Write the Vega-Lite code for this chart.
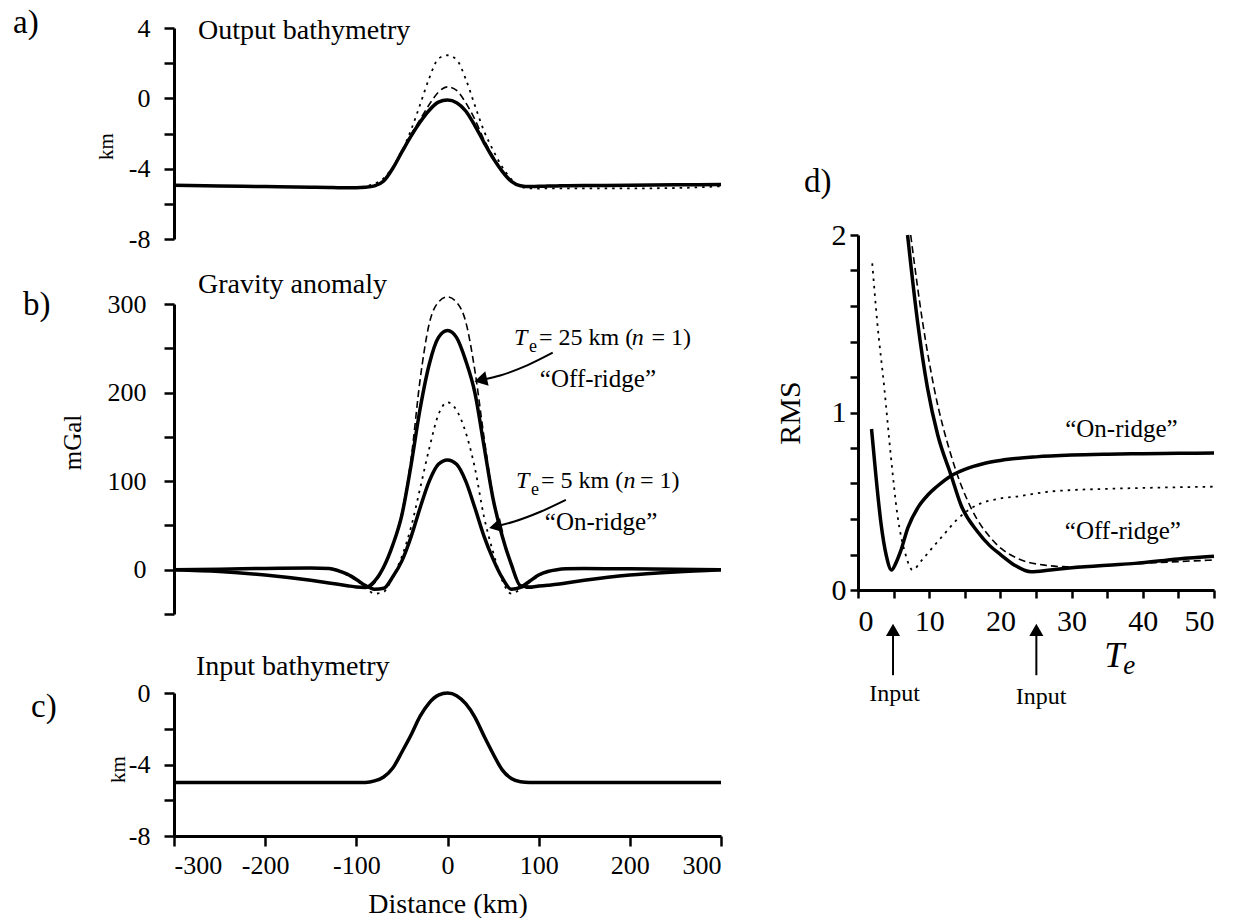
{
  "$schema": "https://vega.github.io/schema/vega-lite/v6.json",
  "padding": {"left": 12, "top": 6, "right": 0, "bottom": 0},
  "config": {
    "view": {"stroke": null},
    "font": "Liberation Serif",
    "axis": {"domainColor": "black", "domainWidth": 3, "tickColor": "black", "tickWidth": 2.5, "tickSize": 10, "labelFont": "Liberation Serif", "labelColor": "black", "labelFontSize": 26, "titleFont": "Liberation Serif", "titleColor": "black", "titleFontWeight": "normal", "grid": false},
    "text": {"font": "Liberation Serif", "color": "black"}
  },
  "datasets": {
    "outbathy": [
      {"s":"solid","x":-300,"y":-4.95},{"s":"solid","x":-250,"y":-4.98},{"s":"solid","x":-200,"y":-5.02},{"s":"solid","x":-150,"y":-5.05},{"s":"solid","x":-130,"y":-5.07},{"s":"solid","x":-120,"y":-5.08},{"s":"solid","x":-110,"y":-5.08},{"s":"solid","x":-100,"y":-5.08},{"s":"solid","x":-90,"y":-5.06},{"s":"solid","x":-80,"y":-4.98},{"s":"solid","x":-70,"y":-4.7},{"s":"solid","x":-60,"y":-3.98},{"s":"solid","x":-50,"y":-3.05},{"s":"solid","x":-40,"y":-2.15},{"s":"solid","x":-30,"y":-1.35},{"s":"solid","x":-20,"y":-0.68},{"s":"solid","x":-10,"y":-0.22},{"s":"solid","x":0,"y":-0.1},{"s":"solid","x":10,"y":-0.25},{"s":"solid","x":20,"y":-0.72},{"s":"solid","x":30,"y":-1.55},{"s":"solid","x":40,"y":-2.5},{"s":"solid","x":50,"y":-3.4},{"s":"solid","x":60,"y":-4.15},{"s":"solid","x":70,"y":-4.72},{"s":"solid","x":80,"y":-4.97},{"s":"solid","x":90,"y":-5.02},{"s":"solid","x":100,"y":-5.0},{"s":"solid","x":110,"y":-4.99},{"s":"solid","x":120,"y":-4.98},{"s":"solid","x":130,"y":-4.97},{"s":"solid","x":150,"y":-4.96},{"s":"solid","x":200,"y":-4.94},{"s":"solid","x":250,"y":-4.92},{"s":"solid","x":300,"y":-4.9},
      {"s":"dashed","x":-300,"y":-4.95},{"s":"dashed","x":-250,"y":-4.98},{"s":"dashed","x":-200,"y":-5.02},{"s":"dashed","x":-150,"y":-5.05},{"s":"dashed","x":-130,"y":-5.07},{"s":"dashed","x":-120,"y":-5.08},{"s":"dashed","x":-110,"y":-5.08},{"s":"dashed","x":-100,"y":-5.08},{"s":"dashed","x":-90,"y":-5.06},{"s":"dashed","x":-80,"y":-4.97},{"s":"dashed","x":-70,"y":-4.68},{"s":"dashed","x":-60,"y":-3.95},{"s":"dashed","x":-50,"y":-3.0},{"s":"dashed","x":-40,"y":-2.05},{"s":"dashed","x":-30,"y":-1.2},{"s":"dashed","x":-20,"y":-0.35},{"s":"dashed","x":-10,"y":0.35},{"s":"dashed","x":0,"y":0.65},{"s":"dashed","x":10,"y":0.45},{"s":"dashed","x":20,"y":-0.25},{"s":"dashed","x":30,"y":-1.2},{"s":"dashed","x":40,"y":-2.35},{"s":"dashed","x":50,"y":-3.3},{"s":"dashed","x":60,"y":-4.1},{"s":"dashed","x":70,"y":-4.7},{"s":"dashed","x":80,"y":-4.97},{"s":"dashed","x":90,"y":-5.02},{"s":"dashed","x":100,"y":-5.0},{"s":"dashed","x":110,"y":-4.99},{"s":"dashed","x":120,"y":-4.98},{"s":"dashed","x":130,"y":-4.97},{"s":"dashed","x":150,"y":-4.96},{"s":"dashed","x":200,"y":-4.94},{"s":"dashed","x":250,"y":-4.92},{"s":"dashed","x":300,"y":-4.9},
      {"s":"dotted","x":-300,"y":-4.95},{"s":"dotted","x":-250,"y":-4.98},{"s":"dotted","x":-200,"y":-5.02},{"s":"dotted","x":-150,"y":-5.05},{"s":"dotted","x":-130,"y":-5.06},{"s":"dotted","x":-120,"y":-5.07},{"s":"dotted","x":-110,"y":-5.07},{"s":"dotted","x":-100,"y":-5.06},{"s":"dotted","x":-90,"y":-5.0},{"s":"dotted","x":-80,"y":-4.85},{"s":"dotted","x":-70,"y":-4.55},{"s":"dotted","x":-60,"y":-3.9},{"s":"dotted","x":-50,"y":-3.0},{"s":"dotted","x":-40,"y":-1.8},{"s":"dotted","x":-30,"y":-0.35},{"s":"dotted","x":-20,"y":1.15},{"s":"dotted","x":-10,"y":2.25},{"s":"dotted","x":0,"y":2.45},{"s":"dotted","x":10,"y":2.2},{"s":"dotted","x":20,"y":1.1},{"s":"dotted","x":30,"y":-0.4},{"s":"dotted","x":40,"y":-1.85},{"s":"dotted","x":50,"y":-2.95},{"s":"dotted","x":60,"y":-3.9},{"s":"dotted","x":70,"y":-4.6},{"s":"dotted","x":80,"y":-5.0},{"s":"dotted","x":90,"y":-5.12},{"s":"dotted","x":100,"y":-5.13},{"s":"dotted","x":110,"y":-5.12},{"s":"dotted","x":120,"y":-5.12},{"s":"dotted","x":130,"y":-5.12},{"s":"dotted","x":150,"y":-5.12},{"s":"dotted","x":200,"y":-5.12},{"s":"dotted","x":250,"y":-5.1},{"s":"dotted","x":300,"y":-5.0}
    ],
    "grav": [
      {"s":"te25","x":-300,"y":0},{"s":"te25","x":-250,"y":-2},{"s":"te25","x":-200,"y":-6},{"s":"te25","x":-150,"y":-12},{"s":"te25","x":-130,"y":-15},{"s":"te25","x":-120,"y":-16.5},{"s":"te25","x":-110,"y":-18},{"s":"te25","x":-100,"y":-19.5},{"s":"te25","x":-90,"y":-20},{"s":"te25","x":-80,"y":-13},{"s":"te25","x":-70,"y":3},{"s":"te25","x":-60,"y":28},{"s":"te25","x":-50,"y":62},{"s":"te25","x":-40,"y":118},{"s":"te25","x":-30,"y":182},{"s":"te25","x":-20,"y":232},{"s":"te25","x":-10,"y":262},{"s":"te25","x":0,"y":270},{"s":"te25","x":10,"y":262},{"s":"te25","x":20,"y":236},{"s":"te25","x":30,"y":200},{"s":"te25","x":40,"y":140},{"s":"te25","x":50,"y":80},{"s":"te25","x":60,"y":38},{"s":"te25","x":70,"y":6},{"s":"te25","x":80,"y":-18},{"s":"te25","x":90,"y":-19.5},{"s":"te25","x":100,"y":-18.5},{"s":"te25","x":110,"y":-17.5},{"s":"te25","x":120,"y":-16.5},{"s":"te25","x":130,"y":-15},{"s":"te25","x":150,"y":-12},{"s":"te25","x":200,"y":-6},{"s":"te25","x":250,"y":-2.5},{"s":"te25","x":300,"y":0},
      {"s":"te5","x":-300,"y":0},{"s":"te5","x":-250,"y":0.5},{"s":"te5","x":-200,"y":1.5},{"s":"te5","x":-150,"y":2},{"s":"te5","x":-130,"y":1.5},{"s":"te5","x":-120,"y":-1},{"s":"te5","x":-110,"y":-5},{"s":"te5","x":-100,"y":-11},{"s":"te5","x":-90,"y":-18},{"s":"te5","x":-80,"y":-22},{"s":"te5","x":-70,"y":-21},{"s":"te5","x":-60,"y":-8},{"s":"te5","x":-50,"y":10},{"s":"te5","x":-40,"y":37},{"s":"te5","x":-30,"y":70},{"s":"te5","x":-20,"y":100},{"s":"te5","x":-10,"y":119},{"s":"te5","x":0,"y":124},{"s":"te5","x":10,"y":119},{"s":"te5","x":20,"y":100},{"s":"te5","x":30,"y":70},{"s":"te5","x":40,"y":38},{"s":"te5","x":50,"y":12},{"s":"te5","x":60,"y":-9},{"s":"te5","x":70,"y":-22},{"s":"te5","x":80,"y":-20},{"s":"te5","x":90,"y":-13},{"s":"te5","x":100,"y":-6},{"s":"te5","x":110,"y":-2},{"s":"te5","x":120,"y":0},{"s":"te5","x":130,"y":1},{"s":"te5","x":150,"y":1.5},{"s":"te5","x":200,"y":1},{"s":"te5","x":250,"y":0.5},{"s":"te5","x":300,"y":0},
      {"s":"dash","x":-300,"y":0},{"s":"dash","x":-250,"y":-2},{"s":"dash","x":-200,"y":-6},{"s":"dash","x":-150,"y":-12},{"s":"dash","x":-130,"y":-15},{"s":"dash","x":-120,"y":-16.5},{"s":"dash","x":-110,"y":-18},{"s":"dash","x":-100,"y":-19.5},{"s":"dash","x":-90,"y":-21},{"s":"dash","x":-80,"y":-15},{"s":"dash","x":-70,"y":2},{"s":"dash","x":-60,"y":28},{"s":"dash","x":-50,"y":65},{"s":"dash","x":-40,"y":125},{"s":"dash","x":-30,"y":215},{"s":"dash","x":-20,"y":278},{"s":"dash","x":-10,"y":302},{"s":"dash","x":0,"y":308},{"s":"dash","x":10,"y":302},{"s":"dash","x":20,"y":280},{"s":"dash","x":30,"y":225},{"s":"dash","x":40,"y":150},{"s":"dash","x":50,"y":82},{"s":"dash","x":60,"y":38},{"s":"dash","x":70,"y":5},{"s":"dash","x":80,"y":-19},{"s":"dash","x":90,"y":-21},{"s":"dash","x":100,"y":-19},{"s":"dash","x":110,"y":-17.5},{"s":"dash","x":120,"y":-16.5},{"s":"dash","x":130,"y":-15},{"s":"dash","x":150,"y":-12},{"s":"dash","x":200,"y":-6},{"s":"dash","x":250,"y":-2.5},{"s":"dash","x":300,"y":0},
      {"s":"dot","x":-300,"y":0},{"s":"dot","x":-250,"y":0.5},{"s":"dot","x":-200,"y":1.5},{"s":"dot","x":-150,"y":2},{"s":"dot","x":-130,"y":1},{"s":"dot","x":-120,"y":-2},{"s":"dot","x":-110,"y":-6},{"s":"dot","x":-100,"y":-12},{"s":"dot","x":-90,"y":-20},{"s":"dot","x":-80,"y":-27},{"s":"dot","x":-70,"y":-25},{"s":"dot","x":-60,"y":-8},{"s":"dot","x":-50,"y":15},{"s":"dot","x":-40,"y":48},{"s":"dot","x":-30,"y":92},{"s":"dot","x":-20,"y":137},{"s":"dot","x":-10,"y":175},{"s":"dot","x":0,"y":189},{"s":"dot","x":10,"y":180},{"s":"dot","x":20,"y":155},{"s":"dot","x":30,"y":115},{"s":"dot","x":40,"y":60},{"s":"dot","x":50,"y":20},{"s":"dot","x":60,"y":-12},{"s":"dot","x":70,"y":-27},{"s":"dot","x":80,"y":-22},{"s":"dot","x":90,"y":-14},{"s":"dot","x":100,"y":-7},{"s":"dot","x":110,"y":-2},{"s":"dot","x":120,"y":0},{"s":"dot","x":130,"y":1},{"s":"dot","x":150,"y":1.5},{"s":"dot","x":200,"y":1},{"s":"dot","x":250,"y":0.5},{"s":"dot","x":300,"y":0}
    ],
    "inbathy": [
      {"x":-300,"y":-5},{"x":-250,"y":-5},{"x":-200,"y":-5},{"x":-150,"y":-5},{"x":-130,"y":-5},{"x":-120,"y":-5},{"x":-110,"y":-5},{"x":-100,"y":-5},{"x":-90,"y":-5},{"x":-80,"y":-4.92},{"x":-70,"y":-4.7},{"x":-60,"y":-4.2},{"x":-50,"y":-3.3},{"x":-40,"y":-2.35},{"x":-30,"y":-1.3},{"x":-20,"y":-0.55},{"x":-10,"y":-0.12},{"x":0,"y":0},{"x":10,"y":-0.15},{"x":20,"y":-0.6},{"x":30,"y":-1.35},{"x":40,"y":-2.4},{"x":50,"y":-3.4},{"x":60,"y":-4.3},{"x":70,"y":-4.78},{"x":80,"y":-4.96},{"x":90,"y":-5},{"x":100,"y":-5},{"x":110,"y":-5},{"x":120,"y":-5},{"x":130,"y":-5},{"x":150,"y":-5},{"x":200,"y":-5},{"x":250,"y":-5},{"x":300,"y":-5}
    ],
    "rms": [
      {"s":"on","x":1.9,"y":0.907},{"s":"on","x":2.5,"y":0.65},{"s":"on","x":3.2,"y":0.385},{"s":"on","x":4.0,"y":0.19},{"s":"on","x":4.7,"y":0.113},{"s":"on","x":5.3,"y":0.15},{"s":"on","x":6.0,"y":0.22},{"s":"on","x":7.0,"y":0.35},{"s":"on","x":8.5,"y":0.47},{"s":"on","x":9.8,"y":0.535},{"s":"on","x":11,"y":0.58},{"s":"on","x":13.1,"y":0.644},{"s":"on","x":15,"y":0.68},{"s":"on","x":17.7,"y":0.713},{"s":"on","x":20,"y":0.73},{"s":"on","x":25,"y":0.75},{"s":"on","x":30,"y":0.76},{"s":"on","x":35,"y":0.765},{"s":"on","x":40,"y":0.768},{"s":"on","x":45,"y":0.77},{"s":"on","x":50,"y":0.772},
      {"s":"onDot","x":2.0,"y":1.84},{"s":"onDot","x":2.7,"y":1.51},{"s":"onDot","x":3.7,"y":1.136},{"s":"onDot","x":4.6,"y":0.76},{"s":"onDot","x":5.55,"y":0.42},{"s":"onDot","x":6.7,"y":0.197},{"s":"onDot","x":7.66,"y":0.113},{"s":"onDot","x":9,"y":0.17},{"s":"onDot","x":10.7,"y":0.25},{"s":"onDot","x":12,"y":0.31},{"s":"onDot","x":14,"y":0.4},{"s":"onDot","x":15.5,"y":0.45},{"s":"onDot","x":16.8,"y":0.48},{"s":"onDot","x":20,"y":0.516},{"s":"onDot","x":22.5,"y":0.528},{"s":"onDot","x":27,"y":0.555},{"s":"onDot","x":30,"y":0.563},{"s":"onDot","x":35,"y":0.57},{"s":"onDot","x":40,"y":0.575},{"s":"onDot","x":45,"y":0.579},{"s":"onDot","x":50,"y":0.582},
      {"s":"off","x":6.96,"y":2.0},{"s":"off","x":8.37,"y":1.51},{"s":"off","x":9.77,"y":1.136},{"s":"off","x":11.2,"y":0.873},{"s":"off","x":13.06,"y":0.648},{"s":"off","x":14.46,"y":0.479},{"s":"off","x":16.8,"y":0.328},{"s":"off","x":18.5,"y":0.25},{"s":"off","x":20.1,"y":0.197},{"s":"off","x":22,"y":0.14},{"s":"off","x":24.3,"y":0.103},{"s":"off","x":27,"y":0.113},{"s":"off","x":30,"y":0.125},{"s":"off","x":35,"y":0.14},{"s":"off","x":38.9,"y":0.15},{"s":"off","x":45,"y":0.175},{"s":"off","x":50,"y":0.19},
      {"s":"offDash","x":7.4,"y":2.0},{"s":"offDash","x":9.07,"y":1.51},{"s":"offDash","x":10.7,"y":1.136},{"s":"offDash","x":13.06,"y":0.76},{"s":"offDash","x":15.9,"y":0.46},{"s":"offDash","x":18.7,"y":0.29},{"s":"offDash","x":20.1,"y":0.234},{"s":"offDash","x":22.4,"y":0.178},{"s":"offDash","x":26.2,"y":0.14},{"s":"offDash","x":29.5,"y":0.131},{"s":"offDash","x":35,"y":0.14},{"s":"offDash","x":40,"y":0.15},{"s":"offDash","x":45,"y":0.16},{"s":"offDash","x":50,"y":0.169}
    ]
  },
  "bounds": "flush",
  "spacing": 684,
  "hconcat": [
    {
      "bounds": "flush",
      "spacing": 665,
      "vconcat": [
        {
          "bounds": "flush",
          "spacing": 65,
          "vconcat": [
            {
              "width": 547, "height": 211,
              "encoding": {
                "x": {"field": "x", "type": "quantitative", "scale": {"domain": [-300, 300], "nice": false, "zero": false}, "axis": null},
                "y": {"field": "y", "type": "quantitative", "scale": {"domain": [-8, 4], "nice": false}, "axis": {"values": [-8, -6, -4, -2, 0, 2, 4], "labelExpr": "datum.value % 4 === 0 ? (datum.value < 0 ? '-' + abs(datum.value) : '' + datum.value) : ''", "title": "km", "titleFontSize": 21, "titlePadding": 12, "titleY": 118, "labelPadding": 14}}
              },
              "layer": [
                {"data": {"values": [{"y": 0}]}, "mark": {"type": "rule", "color": "#777777", "strokeDash": [4, 3], "strokeWidth": 1.2}, "encoding": {"x": {"datum": -300, "type": "quantitative", "axis": null}, "x2": {"datum": 300}}},
                {"data": {"name": "outbathy"}, "transform": [{"filter": "datum.s === 'dotted'"}], "mark": {"type": "line", "color": "black", "strokeWidth": 1.8, "strokeDash": [2.5, 5], "interpolate": "monotone"}},
                {"data": {"name": "outbathy"}, "transform": [{"filter": "datum.s === 'dashed'"}], "mark": {"type": "line", "color": "black", "strokeWidth": 1.6, "strokeDash": [7, 4], "interpolate": "monotone"}},
                {"data": {"name": "outbathy"}, "transform": [{"filter": "datum.s === 'solid'"}], "mark": {"type": "line", "color": "black", "strokeWidth": 3.5, "interpolate": "monotone"}},
                {"data": {"values": [{"x": -273.7, "y": 3.83, "t": "Output bathymetry"}]}, "mark": {"type": "text", "align": "left", "baseline": "middle", "fontSize": 28}, "encoding": {"text": {"field": "t"}}},
                {"data": {"values": [{"x": -476.6, "y": 4.3, "t": "a)"}]}, "mark": {"type": "text", "align": "left", "baseline": "middle", "fontSize": 33}, "encoding": {"text": {"field": "t"}}}
              ]
            },
            {
              "width": 547, "height": 310,
              "encoding": {
                "x": {"field": "x", "type": "quantitative", "scale": {"domain": [-300, 300], "nice": false, "zero": false}, "axis": null},
                "y": {"field": "y", "type": "quantitative", "scale": {"domain": [-50, 300], "nice": false}, "axis": {"values": [-50, 0, 50, 100, 150, 200, 250, 300], "labelExpr": "datum.value % 100 === 0 ? '' + datum.value : ''", "title": "mGal", "titleFontSize": 25, "titlePadding": 22, "titleY": 138, "labelPadding": 18}}
              },
              "layer": [
                {"data": {"name": "grav"}, "transform": [{"filter": "datum.s === 'dot'"}], "mark": {"type": "line", "color": "black", "strokeWidth": 1.8, "strokeDash": [2.5, 5], "interpolate": "monotone"}},
                {"data": {"name": "grav"}, "transform": [{"filter": "datum.s === 'dash'"}], "mark": {"type": "line", "color": "black", "strokeWidth": 1.6, "strokeDash": [7, 4], "interpolate": "monotone"}},
                {"data": {"name": "grav"}, "transform": [{"filter": "datum.s === 'te25' || datum.s === 'te5'"}], "mark": {"type": "line", "color": "black", "strokeWidth": 3.5, "interpolate": "monotone"}, "encoding": {"detail": {"field": "s"}}},
                {"data": {"values": [{"a": 1, "x": 115.4, "y": 245}, {"a": 1, "x": 88, "y": 231}, {"a": 1, "x": 58.7, "y": 219.6}, {"a": 1, "x": 36.4, "y": 214.2}, {"a": 2, "x": 129.8, "y": 78.8}, {"a": 2, "x": 102.6, "y": 65.7}, {"a": 2, "x": 73.3, "y": 54.4}, {"a": 2, "x": 52.6, "y": 48.7}]}, "mark": {"type": "line", "color": "black", "strokeWidth": 2, "interpolate": "monotone"}, "encoding": {"detail": {"field": "a"}}},
                {"data": {"values": [{"x": 36.4, "y": 214.2}, {"x": 52.6, "y": 48.7}]}, "mark": {"type": "point", "shape": "triangle-left", "filled": true, "color": "black", "opacity": 1, "size": 220, "angle": -13}},
                {"data": {"values": [{"x": 72.9, "y": 253.7, "t": "T"}, {"x": 202.2, "y": 253.7, "t": "n"}, {"x": 75.1, "y": 91.9, "t": "T"}, {"x": 193.0, "y": 91.9, "t": "n"}]}, "mark": {"type": "text", "align": "left", "baseline": "alphabetic", "fontSize": 24, "fontStyle": "italic"}, "encoding": {"text": {"field": "t"}}},
                {"data": {"values": [{"x": 89.5, "y": 245.8, "t": "e"}, {"x": 91.6, "y": 84, "t": "e"}]}, "mark": {"type": "text", "align": "left", "baseline": "alphabetic", "fontSize": 18}, "encoding": {"text": {"field": "t"}}},
                {"data": {"values": [{"x": 100.4, "y": 253.7, "t": "= 25 km ("}, {"x": 223.8, "y": 253.7, "t": "= 1)"}, {"x": 102.6, "y": 91.9, "t": "= 5 km ("}, {"x": 211.1, "y": 91.9, "t": "= 1)"}]}, "mark": {"type": "text", "align": "left", "baseline": "alphabetic", "fontSize": 24}, "encoding": {"text": {"field": "t"}}},
                {"data": {"values": [{"x": 165, "y": 215.5, "t": "\u201cOff-ridge\u201d"}, {"x": 168.4, "y": 54.4, "t": "\u201cOn-ridge\u201d"}]}, "mark": {"type": "text", "align": "center", "baseline": "middle", "fontSize": 25}, "encoding": {"text": {"field": "t"}}},
                {"data": {"values": [{"x": -273.7, "y": 321.4, "t": "Gravity anomaly"}]}, "mark": {"type": "text", "align": "left", "baseline": "middle", "fontSize": 28}, "encoding": {"text": {"field": "t"}}},
                {"data": {"values": [{"x": -465.6, "y": 298.9, "t": "b)"}]}, "mark": {"type": "text", "align": "left", "baseline": "middle", "fontSize": 33}, "encoding": {"text": {"field": "t"}}}
              ]
            }
          ]
        },
        {
          "width": 547, "height": 143,
          "encoding": {
            "x": {"field": "x", "type": "quantitative", "scale": {"domain": [-300, 300], "nice": false, "zero": false}, "axis": {"values": [-300, -200, -100, 0, 100, 200, 300], "labelExpr": "datum.value < 0 ? '-' + abs(datum.value) : '' + datum.value", "title": "Distance (km)", "titleFontSize": 28, "labelPadding": 6, "titlePadding": 12}},
            "y": {"field": "y", "type": "quantitative", "scale": {"domain": [-8, 0], "nice": false}, "axis": {"values": [-8, -6, -4, -2, 0], "labelExpr": "datum.value % 4 === 0 ? (datum.value < 0 ? '-' + abs(datum.value) : '' + datum.value) : ''", "title": "km", "titleFontSize": 21, "titlePadding": 0, "titleY": 76, "labelPadding": 14}}
          },
          "layer": [
            {"data": {"values": [{"y": 0}]}, "mark": {"type": "rule", "color": "#777777", "strokeDash": [4, 3], "strokeWidth": 1.2}, "encoding": {"x": {"datum": -300, "type": "quantitative"}, "x2": {"datum": 300}}},
            {"data": {"name": "inbathy"}, "mark": {"type": "line", "color": "black", "strokeWidth": 3.5, "interpolate": "monotone"}},
            {"data": {"values": [{"x": -276, "y": 1.45, "t": "Input bathymetry"}]}, "mark": {"type": "text", "align": "left", "baseline": "middle", "fontSize": 28}, "encoding": {"text": {"field": "t"}}},
            {"data": {"values": [{"x": -456.8, "y": -0.78, "t": "c)"}]}, "mark": {"type": "text", "align": "left", "baseline": "middle", "fontSize": 33}, "encoding": {"text": {"field": "t"}}}
          ]
        }
      ]
    },
    {
      "bounds": "flush",
      "spacing": 40,
      "vconcat": [
        {
          "width": 356, "height": 167,
          "data": {"values": [{"x": -7.6, "y": 0.08, "t": "d)"}]},
          "mark": {"type": "text", "align": "left", "baseline": "middle", "fontSize": 33},
          "encoding": {
            "x": {"field": "x", "type": "quantitative", "scale": {"domain": [0, 50], "nice": false}, "axis": null},
            "y": {"field": "y", "type": "quantitative", "scale": {"domain": [0, 1], "nice": false}, "axis": null},
            "text": {"field": "t"}
          }
        },
        {
          "width": 356, "height": 355,
          "encoding": {
            "x": {"field": "x", "type": "quantitative", "scale": {"domain": [0, 50], "nice": false, "zero": false}, "axis": {"values": [0, 5, 10, 15, 20, 25, 30, 35, 40, 45, 50], "labelExpr": "datum.value % 10 === 0 ? '' + datum.value : ''", "title": null, "labelFontSize": 30, "tickSize": 8, "labelPadding": 8}},
            "y": {"field": "y", "type": "quantitative", "scale": {"domain": [0, 2], "nice": false}, "axis": {"values": [0, 0.2, 0.4, 0.6, 0.8, 1, 1.2, 1.4, 1.6, 1.8, 2], "labelExpr": "datum.value % 1 === 0 ? '' + datum.value : ''", "title": "RMS", "titleFontSize": 30, "labelFontSize": 30, "tickSize": 8, "labelPadding": 4, "titlePadding": 26}}
          },
          "layer": [
            {"data": {"name": "rms"}, "transform": [{"filter": "datum.s === 'onDot'"}], "mark": {"type": "line", "color": "black", "strokeWidth": 1.8, "strokeDash": [2.5, 5], "interpolate": "monotone"}},
            {"data": {"name": "rms"}, "transform": [{"filter": "datum.s === 'offDash'"}], "mark": {"type": "line", "color": "black", "strokeWidth": 1.6, "strokeDash": [7, 4], "interpolate": "monotone"}},
            {"data": {"name": "rms"}, "transform": [{"filter": "datum.s === 'on' || datum.s === 'off'"}], "mark": {"type": "line", "color": "black", "strokeWidth": 3.5, "interpolate": "monotone"}, "encoding": {"detail": {"field": "s"}}},
            {"data": {"values": [{"x": 37.0, "y": 0.905, "t": "\u201cOn-ridge\u201d"}, {"x": 37.2, "y": 0.33, "t": "\u201cOff-ridge\u201d"}]}, "mark": {"type": "text", "align": "center", "baseline": "middle", "fontSize": 25}, "encoding": {"text": {"field": "t"}}},
            {"data": {"values": [{"x": 4.92, "y": -0.48, "y2": -0.224}, {"x": 25.05, "y": -0.48, "y2": -0.224}]}, "mark": {"type": "rule", "color": "black", "strokeWidth": 2}, "encoding": {"y2": {"field": "y2"}}},
            {"data": {"values": [{"x": 4.92, "y": -0.224}, {"x": 25.05, "y": -0.224}]}, "mark": {"type": "point", "shape": "triangle-up", "filled": true, "color": "black", "opacity": 1, "size": 200}},
            {"data": {"values": [{"x": 5.15, "y": -0.585, "t": "Input"}, {"x": 25.7, "y": -0.6, "t": "Input"}]}, "mark": {"type": "text", "align": "center", "baseline": "middle", "fontSize": 24}, "encoding": {"text": {"field": "t"}}},
            {"data": {"values": [{"x": 36.0, "y": -0.37, "t": "T"}]}, "mark": {"type": "text", "align": "center", "baseline": "middle", "fontSize": 36, "fontStyle": "italic"}, "encoding": {"text": {"field": "t"}}},
            {"data": {"values": [{"x": 38.1, "y": -0.43, "t": "e"}]}, "mark": {"type": "text", "align": "center", "baseline": "middle", "fontSize": 27, "fontStyle": "italic"}, "encoding": {"text": {"field": "t"}}}
          ]
        }
      ]
    }
  ]
}
